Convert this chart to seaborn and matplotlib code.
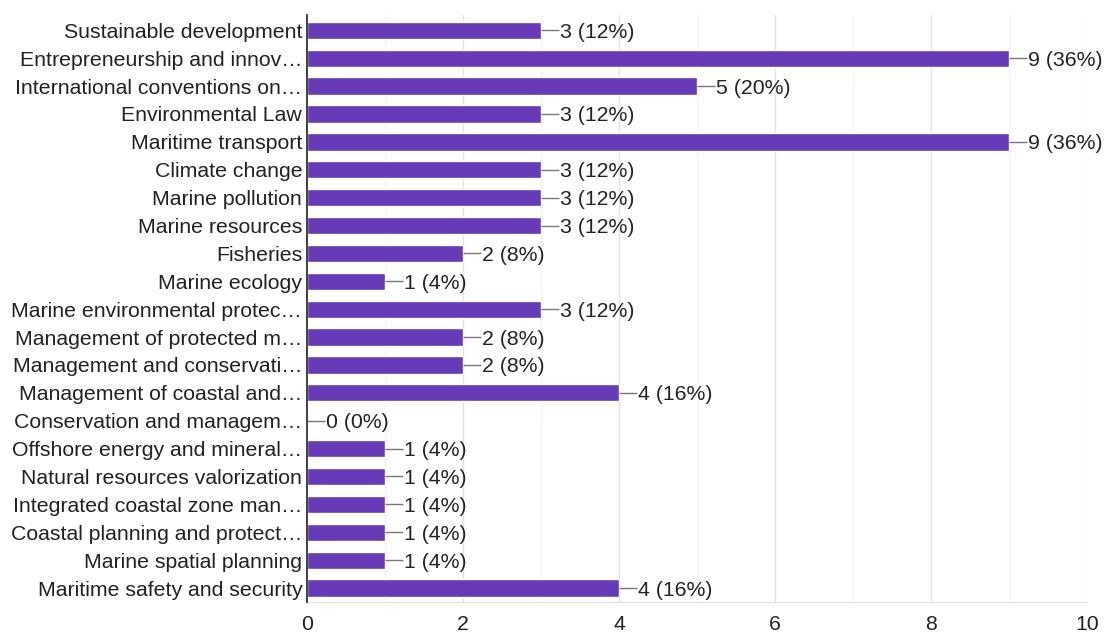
import matplotlib
matplotlib.use("Agg")
import matplotlib.pyplot as plt
import seaborn as sns
import pandas as pd

# Survey responses per topic (25 respondents in total)
topics = [
    "Sustainable development",
    "Entrepreneurship and innov…",
    "International conventions on…",
    "Environmental Law",
    "Maritime transport",
    "Climate change",
    "Marine pollution",
    "Marine resources",
    "Fisheries",
    "Marine ecology",
    "Marine environmental protec…",
    "Management of protected m…",
    "Management and conservati…",
    "Management of coastal and…",
    "Conservation and managem…",
    "Offshore energy and mineral…",
    "Natural resources valorization",
    "Integrated coastal zone man…",
    "Coastal planning and protect…",
    "Marine spatial planning",
    "Maritime safety and security",
]
counts = [3, 9, 5, 3, 9, 3, 3, 3, 2, 1, 3, 2, 2, 4, 0, 1, 1, 1, 1, 1, 4]
total_respondents = 25
x_ticks = [0, 2, 4, 6, 8, 10]
x_minor = [1, 3, 5, 7, 9]

df = pd.DataFrame({"topic": topics, "count": counts})

sns.set_theme(style="white")
plt.rcParams["font.family"] = ["Liberation Sans", "DejaVu Sans"]

fig = plt.figure(figsize=(11.06, 6.35), dpi=100)
ax = fig.add_axes([0.2776, 0.052, 0.7052, 0.9244])

bar_color = "#673ab7"
sns.barplot(data=df, y="topic", x="count", orient="h", color=bar_color,
            width=0.62, saturation=1, ax=ax, zorder=3)

ax.set_xlim(0, 10)
ax.set_ylim(len(topics) - 0.5, -0.55)
ax.set_xticks(x_ticks)
ax.set_xticklabels([str(t) for t in x_ticks])
ax.set_xlabel("")
ax.set_ylabel("")

# gridlines: major at even values, fainter minor at odd values
for t in x_ticks[1:]:
    ax.axvline(t, color="#e3e3e3", lw=1, zorder=0)
for t in x_minor:
    ax.axvline(t, color="#f3f3f3", lw=1, zorder=0)

for side in ["top", "right"]:
    ax.spines[side].set_visible(False)
ax.spines["left"].set_color("#333333")
ax.spines["left"].set_linewidth(1.3)
ax.spines["left"].set_zorder(4)
ax.spines["bottom"].set_color("#e3e3e3")
ax.spines["bottom"].set_linewidth(1)

ax.tick_params(axis="y", length=0, pad=3.5, labelsize=15.3, labelcolor="#222222")
ax.tick_params(axis="x", length=0, pad=9.5, labelsize=15.3, labelcolor="#222222")
for lbl in ax.get_yticklabels():
    lbl.set_verticalalignment("center_baseline")

# value labels with leader lines
lead = 0.23
for i, v in enumerate(counts):
    ax.plot([v, v + lead], [i, i], color="#777777", lw=1, zorder=4,
            solid_capstyle="butt")
    pct = v / total_respondents * 100
    ax.text(v + lead + 0.01, i, f"{v} ({pct:.0f}%)", va="center_baseline",
            ha="left", fontsize=15.3, color="#222222", zorder=5)

fig.savefig("out.png", dpi=100)
